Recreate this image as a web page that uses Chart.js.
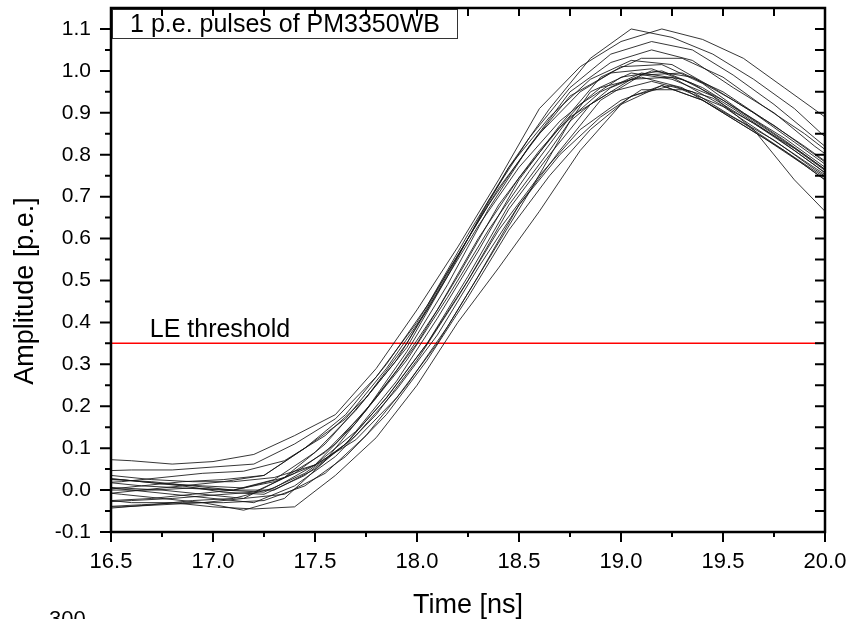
<!DOCTYPE html>
<html>
<head>
<meta charset="utf-8">
<script src="https://cdn.jsdelivr.net/npm/chart.js@4.4.0/dist/chart.umd.min.js"></script>
<style>
  body { margin: 0; background: #fff; }
  canvas { display: block; }
</style>
</head>
<body>
<canvas id="pulseChart" width="850" height="619"></canvas>
<script>
// sample times [ns], scope samples every 0.2 ns, each pulse on its own phase
var timesA = [16.4, 16.6, 16.8, 17.0, 17.2, 17.4, 17.6, 17.8, 18.0, 18.2, 18.4, 18.6, 18.8, 19.0, 19.2, 19.4, 19.6, 19.8, 20.0];
var timesB = [16.45, 16.65, 16.85, 17.05, 17.25, 17.45, 17.65, 17.85, 18.05, 18.25, 18.45, 18.65, 18.85, 19.05, 19.25, 19.45, 19.65, 19.85, 20.05];
var timesC = [16.35, 16.55, 16.75, 16.95, 17.15, 17.35, 17.55, 17.75, 17.95, 18.15, 18.35, 18.55, 18.75, 18.95, 19.15, 19.35, 19.55, 19.75, 19.95, 20.15];
var timesD = [16.3, 16.5, 16.7, 16.9, 17.1, 17.3, 17.5, 17.7, 17.9, 18.1, 18.3, 18.5, 18.7, 18.9, 19.1, 19.3, 19.5, 19.7, 19.9, 20.1];

// amplitudes [p.e.]
var pulseA1 = [0.075, 0.07, 0.062, 0.068, 0.085, 0.13, 0.18, 0.29, 0.43, 0.58, 0.74, 0.91, 1.01, 1.07, 1.10, 1.075, 1.03, 0.96, 0.89];
var pulseA2 = [-0.03, -0.025, -0.02, -0.012, -0.005, 0.04, 0.11, 0.22, 0.35, 0.51, 0.68, 0.81, 0.92, 0.985, 1.0, 0.96, 0.90, 0.84, 0.77];
var pulseA3 = [0.01, 0.0, -0.01, -0.02, -0.03, 0.01, 0.08, 0.18, 0.31, 0.46, 0.62, 0.75, 0.86, 0.93, 0.965, 0.93, 0.87, 0.81, 0.745];
var pulseA4 = [-0.02, -0.03, -0.03, -0.04, -0.045, -0.04, 0.035, 0.125, 0.25, 0.40, 0.53, 0.665, 0.81, 0.92, 0.965, 0.93, 0.875, 0.81, 0.74];
var pulseA5 = [0.045, 0.048, 0.048, 0.055, 0.062, 0.11, 0.17, 0.27, 0.40, 0.56, 0.72, 0.85, 0.95, 1.01, 1.015, 0.97, 0.90, 0.835, 0.765];

var pulseB1 = [-0.01, 0.0, 0.01, 0.02, 0.035, 0.10, 0.17, 0.29, 0.43, 0.60, 0.77, 0.91, 1.03, 1.10, 1.08, 1.04, 0.98, 0.91, 0.82];
var pulseB2 = [0.02, 0.01, 0.005, 0.0, -0.005, 0.04, 0.11, 0.22, 0.35, 0.50, 0.67, 0.80, 0.92, 0.98, 0.985, 0.93, 0.875, 0.81, 0.74];
var pulseB3 = [0.0, 0.01, 0.02, 0.025, 0.035, 0.10, 0.18, 0.30, 0.44, 0.61, 0.77, 0.89, 0.98, 1.025, 1.015, 0.96, 0.90, 0.83, 0.76];
var pulseB4 = [-0.04, -0.035, -0.03, -0.03, -0.025, 0.01, 0.08, 0.18, 0.31, 0.46, 0.62, 0.75, 0.86, 0.94, 0.965, 0.935, 0.875, 0.815, 0.745];
var pulseB5 = [0.03, 0.02, 0.01, -0.005, -0.01, 0.035, 0.11, 0.22, 0.35, 0.51, 0.68, 0.81, 0.95, 0.995, 0.98, 0.94, 0.86, 0.74, 0.64];

var pulseC1 = [0.0, -0.01, -0.02, -0.03, -0.048, -0.02, 0.07, 0.19, 0.33, 0.49, 0.67, 0.82, 0.95, 1.02, 1.05, 1.025, 0.96, 0.90, 0.82, 0.75];
var pulseC2 = [0.03, 0.025, 0.015, 0.01, 0.005, 0.03, 0.09, 0.19, 0.31, 0.46, 0.62, 0.76, 0.89, 0.95, 0.975, 0.95, 0.89, 0.835, 0.765, 0.70];
var pulseC3 = [-0.04, -0.04, -0.035, -0.03, -0.02, 0.03, 0.11, 0.22, 0.35, 0.52, 0.68, 0.82, 0.94, 0.995, 1.005, 0.97, 0.91, 0.845, 0.775, 0.70];
var pulseC4 = [0.01, 0.005, 0.0, -0.01, -0.02, -0.01, 0.04, 0.13, 0.25, 0.39, 0.55, 0.71, 0.88, 0.96, 1.0, 0.985, 0.93, 0.87, 0.80, 0.73];
var pulseC5 = [0.015, 0.02, 0.03, 0.04, 0.045, 0.07, 0.13, 0.22, 0.34, 0.51, 0.69, 0.84, 0.96, 1.04, 1.07, 1.05, 0.99, 0.92, 0.84, 0.76];

var pulseD1 = [-0.045, -0.043, -0.035, -0.025, -0.02, 0.005, 0.06, 0.16, 0.285, 0.43, 0.60, 0.745, 0.865, 0.95, 0.995, 0.98, 0.93, 0.865, 0.80, 0.73];
var pulseD2 = [0.005, 0.0, 0.0, 0.005, 0.0, 0.0, 0.05, 0.13, 0.24, 0.37, 0.53, 0.68, 0.80, 0.89, 0.955, 0.955, 0.915, 0.85, 0.785, 0.72];
var pulseD3 = [0.025, 0.025, 0.02, 0.01, 0.0, 0.025, 0.09, 0.19, 0.31, 0.47, 0.63, 0.77, 0.88, 0.96, 0.985, 0.96, 0.90, 0.84, 0.775, 0.705];
var pulseD4 = [-0.02, -0.025, -0.02, -0.01, 0.0, 0.02, 0.06, 0.14, 0.26, 0.41, 0.57, 0.74, 0.87, 0.985, 1.03, 1.03, 0.985, 0.915, 0.85, 0.775];
var pulseD5 = [0.04, 0.035, 0.025, 0.02, 0.02, 0.03, 0.06, 0.12, 0.22, 0.35, 0.51, 0.68, 0.81, 0.93, 0.99, 0.995, 0.95, 0.885, 0.82, 0.75];

var threshold = 0.35;

var xTicks = [16.5, 17.0, 17.5, 18.0, 18.5, 19.0, 19.5, 20.0];
var xMinor = [16.75, 17.25, 17.75, 18.25, 18.75, 19.25, 19.75];
var yTicks = [-0.1, 0.0, 0.1, 0.2, 0.3, 0.4, 0.5, 0.6, 0.7, 0.8, 0.9, 1.0, 1.1];
var yMinor = [-0.05, 0.05, 0.15, 0.25, 0.35, 0.45, 0.55, 0.65, 0.75, 0.85, 0.95, 1.05];

var pulses = [
  [timesA, pulseA1], [timesA, pulseA2], [timesA, pulseA3], [timesA, pulseA4], [timesA, pulseA5],
  [timesB, pulseB1], [timesB, pulseB2], [timesB, pulseB3], [timesB, pulseB4], [timesB, pulseB5],
  [timesC, pulseC1], [timesC, pulseC2], [timesC, pulseC3], [timesC, pulseC4], [timesC, pulseC5],
  [timesD, pulseD1], [timesD, pulseD2], [timesD, pulseD3], [timesD, pulseD4], [timesD, pulseD5]
];

var FONT = '"Liberation Sans", Arial, sans-serif';

var datasets = pulses.map(function (p) {
  return {
    data: p[0].map(function (t, i) { return {x: t, y: p[1][i]}; }),
    borderColor: 'rgba(20,20,20,0.85)',
    borderWidth: 1,
    pointRadius: 0,
    tension: 0
  };
});

datasets.push({
  data: [{x: xTicks[0], y: threshold}, {x: xTicks[xTicks.length - 1], y: threshold}],
  borderColor: '#ff0000',
  borderWidth: 1.5,
  pointRadius: 0
});

// frame, ticks on all four sides, labels
var framePlugin = {
  id: 'frame',
  afterDatasetsDraw: function (chart) {
    var ctx = chart.ctx, a = chart.chartArea;
    var xs = chart.scales.x, ys = chart.scales.y;
    ctx.save();

    ctx.fillStyle = '#000';
    ctx.font = '25px ' + FONT;
    ctx.textAlign = 'left';
    ctx.textBaseline = 'alphabetic';
    ctx.fillText('LE threshold', xs.getPixelForValue(16.69), ys.getPixelForValue(threshold) - 6);

    // title box
    ctx.fillStyle = '#fff';
    ctx.fillRect(a.left + 1, a.top + 1, 346, 30);
    ctx.strokeStyle = '#333';
    ctx.lineWidth = 1;
    ctx.strokeRect(a.left + 1.5, a.top + 1.5, 345, 29);
    ctx.fillStyle = '#000';
    ctx.font = '25px ' + FONT;
    ctx.textAlign = 'center';
    ctx.textBaseline = 'middle';
    ctx.fillText('1 p.e. pulses of PM3350WB', a.left + 174, a.top + 17);

    // tick marks
    ctx.strokeStyle = '#000';
    ctx.lineWidth = 2;
    ctx.beginPath();
    xTicks.forEach(function (v) {
      var px = xs.getPixelForValue(v);
      ctx.moveTo(px, a.bottom); ctx.lineTo(px, a.bottom + 10);
      ctx.moveTo(px, a.top); ctx.lineTo(px, a.top + 8);
    });
    xMinor.forEach(function (v) {
      var px = xs.getPixelForValue(v);
      ctx.moveTo(px, a.bottom); ctx.lineTo(px, a.bottom + 5);
      ctx.moveTo(px, a.top); ctx.lineTo(px, a.top + 8);
    });
    yTicks.forEach(function (v) {
      var py = ys.getPixelForValue(v);
      ctx.moveTo(a.left, py); ctx.lineTo(a.left - 11, py);
      ctx.moveTo(a.right, py); ctx.lineTo(a.right - 10, py);
    });
    yMinor.forEach(function (v) {
      var py = ys.getPixelForValue(v);
      ctx.moveTo(a.left, py); ctx.lineTo(a.left - 6, py);
      ctx.moveTo(a.right, py); ctx.lineTo(a.right - 10, py);
    });
    ctx.stroke();

    ctx.lineWidth = 2.5;
    ctx.strokeRect(a.left, a.top, a.right - a.left, a.bottom - a.top);

    // y axis title
    ctx.fillStyle = '#000';
    ctx.font = '27px ' + FONT;
    ctx.textAlign = 'center';
    ctx.textBaseline = 'middle';
    ctx.translate(26, (a.top + a.bottom) / 2 + 21);
    ctx.rotate(-Math.PI / 2);
    ctx.fillText('Amplitude [p.e.]', 0, 0);
    ctx.restore();

    // stray label cut at the bottom edge
    ctx.save();
    ctx.fillStyle = '#000';
    ctx.font = '22px ' + FONT;
    ctx.textAlign = 'left';
    ctx.textBaseline = 'top';
    ctx.fillText('300', 49, 609);
    ctx.restore();
  }
};

new Chart(document.getElementById('pulseChart'), {
  type: 'line',
  data: { datasets: datasets },
  options: {
    responsive: false,
    animation: false,
    layout: { padding: { top: 8, right: 25, left: 0, bottom: 0 } },
    plugins: { legend: { display: false }, tooltip: { enabled: false } },
    scales: {
      x: {
        type: 'linear',
        min: 16.5,
        max: 20.0,
        afterBuildTicks: function (s) { s.ticks = xTicks.map(function (v) { return {value: v}; }); },
        afterFit: function (s) { s.height = 87; s.paddingLeft = 0; s.paddingRight = 0; },
        grid: { display: false, drawTicks: false },
        border: { display: false },
        ticks: {
          color: '#000',
          font: { family: FONT, size: 22 },
          padding: 17,
          maxRotation: 0,
          autoSkip: false,
          callback: function (v) { return v.toFixed(1); }
        },
        title: {
          display: true,
          text: 'Time [ns]',
          color: '#000',
          font: { family: FONT, size: 27, lineHeight: 1 },
          padding: { top: 0, bottom: 0 }
        }
      },
      y: {
        type: 'linear',
        min: -0.1,
        max: 1.15,
        afterBuildTicks: function (s) { s.ticks = yTicks.map(function (v) { return {value: v}; }); },
        afterFit: function (s) { s.width = 111; s.paddingTop = 0; s.paddingBottom = 0; },
        grid: { display: false, drawTicks: false },
        border: { display: false },
        ticks: {
          color: '#000',
          font: { family: FONT, size: 21 },
          padding: 20,
          autoSkip: false,
          callback: function (v) { return v.toFixed(1); }
        }
      }
    }
  },
  plugins: [framePlugin]
});
</script>
</body>
</html>
